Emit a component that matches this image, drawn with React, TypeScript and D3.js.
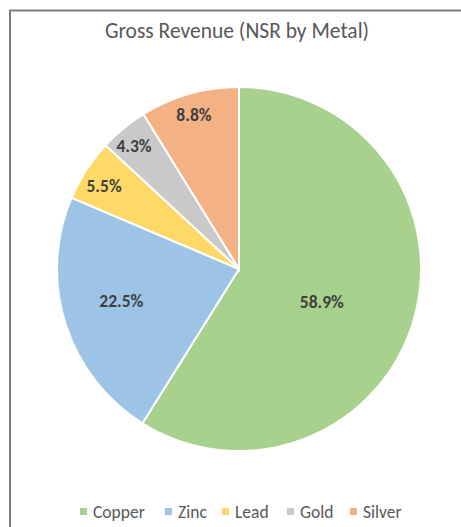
import React from "react";
import * as d3 from "d3";

const categories = ["Copper", "Zinc", "Lead", "Gold", "Silver"];
const values = [58.9, 22.5, 5.5, 4.3, 8.8];
const colors = ["#A9D18E", "#9DC3E6", "#FFD966", "#C9C9C9", "#F4B183"];
const title = "Gross Revenue (NSR by Metal)";

// label placement (fraction of radius, angle offset in degrees) mimicking Excel best-fit
const labelRadiusFrac = [0.49, 0.67, 0.87, 0.89, 0.88];
const labelAngleShift = [5.7, 2.3, -1.4, -1, -0.5];

const W = 461;
const H = 527;
const cx = 239;
const cy = 269;
const R = 182;

export default function App() {
  const pie = d3.pie<number>().sort(null).value((d) => d)(values);
  const arc = d3.arc<d3.PieArcDatum<number>>().innerRadius(0).outerRadius(R);
  const total = d3.sum(values);

  const legendX = [80, 165, 222, 287, 350];

  return (
    <svg
      width={W}
      height={H}
      style={{ position: "absolute", left: 0, top: 0, background: "#fff" }}
      fontFamily="Carlito, 'Open Sans', sans-serif"
    >
      <rect x={0} y={0} width={W} height={H} fill="#fff" />
      <path d={`M10,${H} L10,10.5 L${W},10.5`} fill="none" stroke="#7f7f7f" strokeWidth={2} />
      <text x={237} y={38} textAnchor="middle" fontSize={21.5} fill="#595959">
        {title}
      </text>
      <g transform={`translate(${cx},${cy})`}>
        {pie.map((p, i) => (
          <path key={i} d={arc(p) || ""} fill={colors[i]} stroke="#fff" strokeWidth={2} />
        ))}
        {pie.map((p, i) => {
          const mid = (p.startAngle + p.endAngle) / 2 + (labelAngleShift[i] * Math.PI) / 180;
          const r = R * labelRadiusFrac[i];
          const x = Math.sin(mid) * r;
          const y = -Math.cos(mid) * r;
          return (
            <text
              key={i}
              x={x}
              y={y}
              textAnchor="middle"
              dominantBaseline="central"
              fontSize={17.5}
              fontWeight="bold"
              fill="#404040"
            >
              {((values[i] / total) * 100).toFixed(1)}%
            </text>
          );
        })}
      </g>
      <g>
        {categories.map((c, i) => (
          <g key={c}>
            <rect x={legendX[i]} y={508} width={7} height={7} fill={colors[i]} />
            <text x={legendX[i] + 13} y={518} fontSize={17.5} fill="#595959">
              {c}
            </text>
          </g>
        ))}
      </g>
    </svg>
  );
}
